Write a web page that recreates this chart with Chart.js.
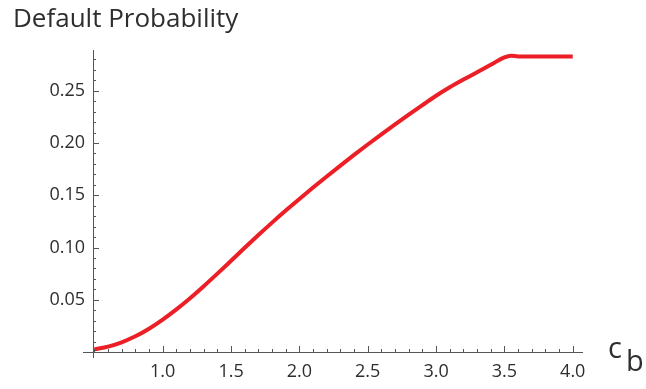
<!DOCTYPE html>
<html>
<head>
<meta charset="utf-8">
<script src="https://cdn.jsdelivr.net/npm/chart.js@4/dist/chart.umd.min.js"></script>
<style>
  html, body { margin:0; padding:0; background:#fff; }
  canvas { display:block; }
</style>
</head>
<body>
<canvas id="chart" width="646" height="389"></canvas>
<script>
// data
const cbValues = [0.5, 0.6, 0.7, 0.8, 0.9, 1.0, 1.1, 1.2, 1.3, 1.4, 1.5, 1.6, 1.7, 1.8, 1.9, 2.0,
                  2.1, 2.2, 2.3, 2.4, 2.5, 2.6, 2.7, 2.8, 2.9, 3.0, 3.1, 3.2, 3.3, 3.4, 3.5, 3.55,
                  3.6, 3.7, 3.8, 3.9, 4.0];
const defaultProb = [0.0025, 0.0052, 0.0093, 0.015, 0.0223, 0.031, 0.0408, 0.0515, 0.063, 0.075,
                     0.0873, 0.0997, 0.1119, 0.1238, 0.1353, 0.1465, 0.1574, 0.168, 0.1784, 0.1886,
                     0.1986, 0.2083, 0.2178, 0.2271, 0.2362, 0.2452, 0.2533, 0.2607, 0.2677, 0.2748,
                     0.282, 0.2836, 0.2828, 0.2828, 0.2828, 0.2828, 0.2828];
const xTickLabels = ['1.0', '1.5', '2.0', '2.5', '3.0', '3.5', '4.0'];
const yTickLabels = ['0.05', '0.10', '0.15', '0.20', '0.25'];

const FONT = "'Open Sans', 'DejaVu Sans', sans-serif";
const TEXT = '#2e2e2e', AXIS = '#555';

// Mathematica-style axes: ticks point inward, minor ticks shorter
const axesPlugin = {
  id: 'axes',
  afterDraw(chart) {
    const { ctx, chartArea: a, scales } = chart;
    ctx.save();
    ctx.strokeStyle = AXIS;
    ctx.lineWidth = 1;
    ctx.beginPath();
    ctx.moveTo(a.left - 10, a.bottom + 0.5);
    ctx.lineTo(a.right, a.bottom + 0.5);
    ctx.moveTo(a.left + 0.5, a.top);
    ctx.lineTo(a.left + 0.5, a.bottom + 6);
    const x = scales.x, y = scales.y;
    x.ticks.forEach(t => {
      if (t.value < x.min || t.value > x.max) return;
      const px = Math.round(x.getPixelForValue(t.value)) + 0.5;
      const len = xTickLabels.includes(t.label) ? 6 : 3;
      ctx.moveTo(px, a.bottom);
      ctx.lineTo(px, a.bottom - len);
    });
    y.ticks.forEach(t => {
      if (t.value <= y.min || t.value > y.max) return;
      const py = Math.round(y.getPixelForValue(t.value)) + 0.5;
      const len = yTickLabels.includes(t.label) ? 6 : 3;
      ctx.moveTo(a.left, py);
      ctx.lineTo(a.left + len, py);
    });
    ctx.stroke();

    // axis label c_b
    ctx.fillStyle = TEXT;
    ctx.textBaseline = 'alphabetic';
    ctx.font = `29px ${FONT}`;
    ctx.fillText('c', 608, 358);
    ctx.fillText('b', 626, 371);
    ctx.restore();
  }
};

new Chart(document.getElementById('chart'), {
  type: 'line',
  data: {
    datasets: [{
      data: cbValues.map((v, i) => ({ x: v, y: defaultProb[i] })),
      borderColor: '#ec1f26',
      borderWidth: 4,
      pointRadius: 0,
      cubicInterpolationMode: 'monotone',
      clip: false
    }]
  },
  options: {
    responsive: false,
    animation: false,
    layout: { padding: { left: 13, right: 63, top: 0, bottom: 0 } },
    plugins: {
      legend: { display: false },
      tooltip: { enabled: false },
      title: {
        display: true,
        text: 'Default Probability',
        align: 'start',
        color: TEXT,
        font: { family: FONT, size: 26, weight: 'normal' },
        padding: { top: 4, bottom: 14.8 }
      }
    },
    scales: {
      x: {
        type: 'linear',
        min: 0.49,
        max: 4.075,
        grid: { display: false, drawTicks: false },
        border: { display: false },
        afterFit: s => { s.height = 37; },
        ticks: {
          stepSize: 0.1,
          includeBounds: false,
          autoSkip: false,
          maxRotation: 0,
          minRotation: 0,
          padding: 9,
          color: TEXT,
          font: { family: FONT, size: 18 },
          callback: v => {
            const lbl = (Math.round(v * 10) / 10).toFixed(1);
            return Math.abs(v * 10 - Math.round(v * 10)) < 1e-6 && xTickLabels.includes(lbl) ? lbl : '';
          }
        }
      },
      y: {
        min: 0,
        max: 0.289,
        grid: { display: false, drawTicks: false },
        border: { display: false },
        afterFit: s => { s.width = 80; },
        ticks: {
          stepSize: 0.01,
          includeBounds: false,
          autoSkip: false,
          padding: 8,
          color: TEXT,
          font: { family: FONT, size: 18 },
          callback: v => {
            const lbl = (Math.round(v * 100) / 100).toFixed(2);
            return yTickLabels.includes(lbl) ? lbl : '';
          }
        }
      }
    }
  },
  plugins: [axesPlugin]
});
</script>
</body>
</html>
